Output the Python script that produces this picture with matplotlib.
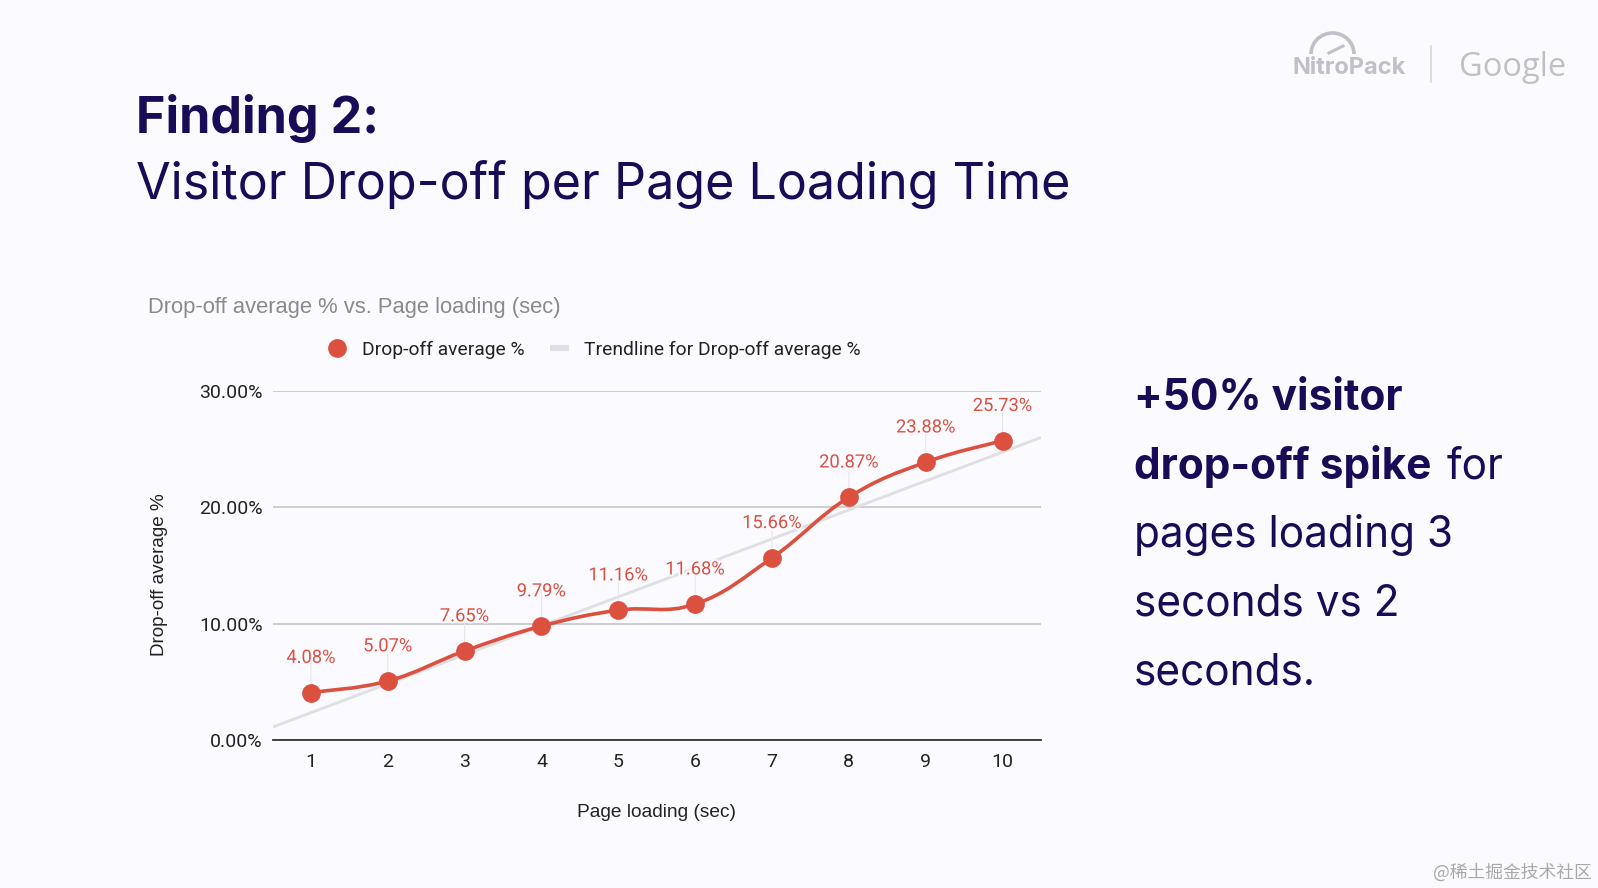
import matplotlib
matplotlib.use("Agg")
import matplotlib.pyplot as plt
import matplotlib.patheffects as pe
from matplotlib.lines import Line2D
from matplotlib.patches import Arc, PathPatch
from matplotlib.path import Path

# chart values
pages = [1, 2, 3, 4, 5, 6, 7, 8, 9, 10]
dropoff = [4.08, 5.07, 7.65, 9.79, 11.16, 11.68, 15.66, 20.87, 23.88, 25.73]
trend_x = [0.5, 10.5]
trend_y = [1.1, 26.0]
y_ticks = [0, 10, 20, 30]
y_tick_labels = ["0.00%", "10.00%", "20.00%", "30.00%"]

BG = "#fafaff"
NAVY = "#1a0b57"
RED = "#dc5040"
W, H = 1598, 888
TITLE_FONT = "Inter"
CHART_FONT = "Roboto"


def px(x, y):
    return x / W, 1 - y / H


def smooth_path(xs, ys, k=0.2):
    # cubic segments through the data points
    verts = [(xs[0], ys[0])]
    codes = [Path.MOVETO]
    n = len(xs)
    for i in range(n - 1):
        x0, y0 = xs[max(i - 1, 0)], ys[max(i - 1, 0)]
        x1, y1 = xs[i], ys[i]
        x2, y2 = xs[i + 1], ys[i + 1]
        x3, y3 = xs[min(i + 2, n - 1)], ys[min(i + 2, n - 1)]
        verts.append((x1 + (x2 - x0) * k, y1 + (y2 - y0) * k))
        verts.append((x2 - (x3 - x1) * k, y2 - (y3 - y1) * k))
        verts.append((x2, y2))
        codes += [Path.CURVE4] * 3
    return Path(verts, codes)


def mixed_line(fig, x, y, parts, size):
    # text runs of different weight on one baseline
    renderer = fig.canvas.get_renderer()
    for s, weight in parts:
        t = fig.text(*px(x, y), s, fontsize=size, fontweight=weight, color=NAVY,
                     family=TITLE_FONT, va="baseline", ha="left")
        x += t.get_window_extent(renderer).width + size * 0.35 * 100 / 72


fig = plt.figure(figsize=(W / 100, H / 100), dpi=100, facecolor=BG)
ax = fig.add_axes([272.5 / W, 1 - 740 / H, (1041 - 272.5) / W, (740 - 391) / H], facecolor="none")

ax.set_xlim(0.5, 10.5)
ax.set_ylim(0, 30)
ax.set_xticks(pages)
ax.set_yticks(y_ticks)
ax.set_yticklabels(y_tick_labels)
ax.tick_params(length=0, labelsize=14, labelcolor="#222222", pad=7)
ax.tick_params(axis="x", pad=9)
for label in ax.get_xticklabels() + ax.get_yticklabels():
    label.set_family(CHART_FONT)
ax.grid(axis="y", color="#c9c9ce", lw=1.3, zorder=0)
ax.set_axisbelow(True)
for side in ["top", "right", "left"]:
    ax.spines[side].set_visible(False)
ax.spines["bottom"].set_color("#333333")
ax.spines["bottom"].set_linewidth(1.3)

ax.plot(trend_x, trend_y, color="#e0e0e4", lw=2.1, zorder=1, solid_capstyle="butt")
ax.add_patch(PathPatch(smooth_path(pages, dropoff), fill=False, edgecolor=RED, lw=2.6, zorder=3))
ax.plot(pages, dropoff, "o", color=RED, ms=13.5, mec="none", zorder=4)

for x, y in zip(pages, dropoff):
    ax.annotate("", xy=(x, y), xytext=(0, 28), textcoords="offset points",
                arrowprops=dict(arrowstyle="-", color="#e6e6ea", lw=0.8), zorder=2)
    ax.annotate(f"{y:.2f}%", xy=(x, y), xytext=(0, 25), textcoords="offset points",
                ha="center", va="center", fontsize=13.2, color=RED, family=CHART_FONT, zorder=5,
                path_effects=[pe.withStroke(linewidth=3, foreground=BG)])

ax.set_xlabel("Page loading (sec)", fontsize=13.8, family="Liberation Sans", color="#222222", labelpad=24)
fig.text(*px(160, 575), "Drop-off average %", rotation=90, ha="center", va="center",
         fontsize=13.6, family="Liberation Sans", color="#222222")

fig.text(*px(148, 307.5), "Drop-off average % vs. Page loading (sec)", fontsize=15.8,
         family="Liberation Sans", color="#8a8a8e", va="center")

# legend
handles = [
    Line2D([], [], marker="o", ls="none", color=RED, ms=13.5, mec="none"),
    Line2D([], [], color="#e0e0e4", lw=4.5, solid_capstyle="butt"),
]
fig.legend(handles, ["Drop-off average %", "Trendline for Drop-off average %"],
           loc="center", bbox_to_anchor=px(594, 350), ncol=2, frameon=False,
           prop={"family": "Roboto", "size": 13.9}, handlelength=1.0, columnspacing=1.3, handletextpad=0.8,
           labelcolor="#222222")

# heading
fig.text(*px(135.5, 133), "Finding 2:", fontsize=36.2, fontweight="bold", color=NAVY,
         family=TITLE_FONT, va="baseline")
fig.text(*px(135.5, 199), "Visitor Drop-off per Page Loading Time", fontsize=36.2, color=NAVY,
         family=TITLE_FONT, va="baseline")

# side note
fig.canvas.draw()
side_lines = [
    [("+50% visitor", "bold")],
    [("drop-off spike", "bold"), ("for", "normal")],
    [("pages loading 3", "normal")],
    [("seconds vs 2", "normal")],
    [("seconds.", "normal")],
]
for i, parts in enumerate(side_lines):
    mixed_line(fig, 1134, 410 + i * 68.6, parts, 30.5)

# logos
fig.text(*px(1349, 68), "NitroPack", fontsize=17, fontweight="bold", color="#c0c0cb",
         family="Inter", ha="center", va="center")
arc_ax = fig.add_axes([0, 0, 1, 1], facecolor="none")
arc_ax.set_xlim(0, W)
arc_ax.set_ylim(H, 0)
arc_ax.axis("off")
arc_ax.add_patch(Arc((1332.5, 54), 43, 42, theta1=180, theta2=360, color="#c0c0cb", lw=2.6))
arc_ax.plot([1329, 1343], [53, 46], color="#c0c0cb", lw=2.2)
arc_ax.plot([1431, 1431], [46, 82], color="#d4d4dc", lw=1.2)
fig.text(*px(1513, 68), "Google", fontsize=23.5, fontweight="medium", color="#c0c0cb", family="Open Sans",
         ha="center", va="center")

# watermark
fig.text(*px(1592, 872), "@稀土掘金技术社区", fontsize=12.8, color="#a9a9ad",
         family=["Noto Sans CJK SC", "DejaVu Sans"], ha="right", va="center")

fig.savefig("out.png", dpi=100, facecolor=BG)
